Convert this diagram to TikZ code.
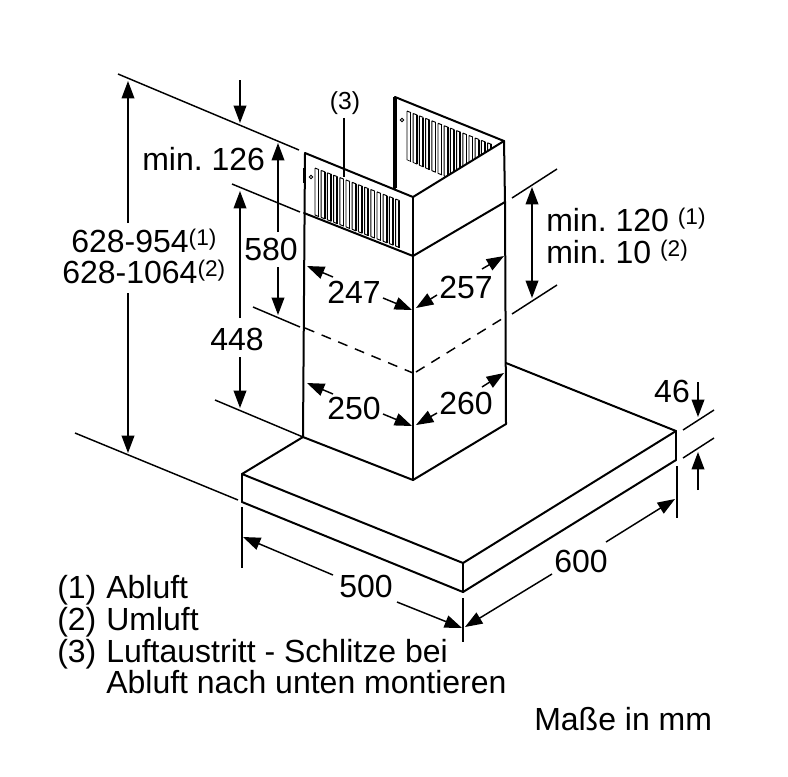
\documentclass[tikz,border=0pt]{standalone}
\usepackage{fontspec}
\setmainfont{Liberation Sans}
\usetikzlibrary{arrows.meta}

\newcommand{\supmark}[1]{\raisebox{4.9pt}{\fontsize{17}{18}\selectfont #1}}
\frenchspacing

\tikzset{
  body/.style={line width=1.5pt,line cap=round,line join=round},
  helpline/.style={line width=1.1pt},
  dimarrow/.style={line width=1.1pt,-{Triangle[length=13pt,width=9.5pt]}},
  smallarrow/.style={line width=1.1pt,-{Triangle[length=13pt,width=9.5pt]}},
  lab/.style={inner sep=0pt,font=\fontsize{24}{26}\selectfont},
  labw/.style={lab,anchor=base west,align=left},
  slot/.style={line width=0.7pt},
  slotbar/.style={line width=1.2pt}
}

\begin{document}
\begin{tikzpicture}[x=0.75pt,y=-0.75pt]
  \useasboundingbox (0,0) rectangle (788,776);

  % chimney corners
  \coordinate (panelTL) at (305,153);
  \coordinate (panelTM) at (413,197);
  \coordinate (panelBL) at (304,213);
  \coordinate (panelBM) at (413,256);
  \coordinate (rearTL) at (395,97);
  \coordinate (rearBL) at (395,188);
  \coordinate (rearTR) at (504,141);
  \coordinate (jointR) at (505,202);
  \coordinate (duct1) at (303,437);
  \coordinate (duct2) at (413,480);
  \coordinate (duct3) at (506,424);
  \coordinate (ductR) at (506,363);

  % canopy corners
  \coordinate (base1) at (242,474);
  \coordinate (base2) at (242,502);
  \coordinate (base3) at (463,563);
  \coordinate (base4) at (463,592);
  \coordinate (base5) at (676,431);
  \coordinate (base6) at (676,460);

  % slots
  \begin{scope}
    \foreach \i in {0,...,13} {
      \pgfmathsetmacro{\xa}{315+6.2*\i}
      \pgfmathsetmacro{\ta}{168+0.385*6.2*\i}
      \pgfmathsetmacro{\ba}{215+0.385*6.2*\i}
      \draw[slot] (\xa,\ta) -- (\xa+4,\ta+1.6) (\xa,\ba) -- (\xa+4,\ba+1.6) (\xa,\ta) -- (\xa,\ba);
      \draw[slotbar] (\xa+3.6,\ta+1.6) -- (\xa+3.6,\ba+1.6);
    }
  \end{scope}
  \begin{scope}
    \clip (400,100) -- (500,100) -- (500,143.5) -- (445,177) -- (400,157) -- cycle;
    \foreach \i in {0,...,13} {
      \pgfmathsetmacro{\xa}{407+6.2*\i}
      \pgfmathsetmacro{\ta}{111+0.395*6.2*\i}
      \pgfmathsetmacro{\ba}{160+0.43*6.2*\i}
      \draw[slot] (\xa,\ta) -- (\xa+4,\ta+1.6) (\xa,\ba) -- (\xa+4,\ba+1.6) (\xa,\ta) -- (\xa,\ba);
      \draw[slotbar] (\xa+3.6,\ta+1.6) -- (\xa+3.6,\ba+1.6);
    }
  \end{scope}
  \draw[slot] (311,177) circle (1.8);
  \draw[slot] (402,120) circle (1.8);

  % chimney
  \draw[body] (rearBL) -- (rearTL) -- (rearTR) -- (panelTM) -- (panelTL) -- (duct1);
  \draw[line width=2.6pt] (rearTL) -- (rearBL);
  \path[body]
  (panelTM) edge (duct2)
  (panelBL) edge (panelBM)
  (panelBM) edge (jointR)
  (rearTR) edge (jointR)
  (jointR) edge (duct3)
  (duct1) edge (duct2)
  (duct2) edge (duct3);
  \coordinate (notchA) at (303,168);
  \coordinate (notchB) at (303,183);
  \draw[slot] (notchA) -- (notchB);

  % canopy
  \path[body]
  (duct1) edge (base1)
  (base1) edge (base2)
  (base1) edge (base3)
  (base2) edge (base4)
  (base3) edge (base4)
  (base3) edge (base5)
  (base4) edge (base6)
  (base5) edge (base6)
  (ductR) edge (base5);

  % section line
  \coordinate (dashA) at (305,328);
  \coordinate (dashB) at (413,373);
  \coordinate (dashC) at (416,372);
  \coordinate (dashD) at (505,317);
  \draw[helpline,dash pattern=on 7.5pt off 6pt] (dashA) -- (dashB);
  \draw[helpline,dash pattern=on 7.5pt off 6pt] (dashC) -- (dashD);

  % extension lines
  \coordinate (extTopA) at (118,74);
  \coordinate (extTopB) at (299,150);
  \coordinate (extMidA) at (232,184);
  \coordinate (extMidB) at (300,212);
  \coordinate (extSecA) at (253,307);
  \coordinate (extSecB) at (300,327);
  \coordinate (extFlrA) at (75,433);
  \coordinate (extFlrB) at (238,500);
  \coordinate (extDuctA) at (215,400);
  \coordinate (extRtA) at (512,198);
  \coordinate (extRtB) at (557,169);
  \coordinate (extRcA) at (512,314);
  \coordinate (extRcB) at (557,285);
  \coordinate (extEdgeA) at (683,430);
  \coordinate (extEdgeB) at (714,410);
  \coordinate (extEdgeC) at (683,458);
  \coordinate (extEdgeD) at (714,438);
  \coordinate (extLfA) at (242,507);
  \coordinate (extLfB) at (242,568);
  \coordinate (extMdA) at (463,598);
  \coordinate (extMdB) at (463,642);
  \coordinate (extRgA) at (677,466);
  \coordinate (extRgB) at (677,518);
  \path[helpline]
  (extTopA) edge (extTopB)
  (extMidA) edge (extMidB)
  (extSecA) edge (extSecB)
  (extFlrA) edge (extFlrB)
  (extDuctA) edge (duct1)
  (extRtA) edge (extRtB)
  (extRcA) edge (extRcB)
  (extEdgeA) edge (extEdgeB)
  (extEdgeC) edge (extEdgeD)
  (extLfA) edge (extLfB)
  (extMdA) edge (extMdB)
  (extRgA) edge (extRgB);

  % labels
  \node[lab] (lab580) at (271,249) {580};
  \node[lab] (lab448) at (237,339) {448};
  \node[lab] (lab247) at (354,292) {247};
  \node[lab] (lab257) at (466,287) {257};
  \node[lab] (lab250) at (354,408) {250};
  \node[lab] (lab260) at (466,403) {260};
  \node[lab] (lab46) at (672,391) {46};
  \node[lab] (lab500) at (366,586) {500};
  \node[lab] (lab600) at (581,561) {600};
  \node[labw] (labMin126) at (142,170) {min. 126};
  \node[labw] (labHigh1) at (71,252) {628-954\supmark{(1)}};
  \node[labw] (labHigh2) at (62,283) {628-1064\supmark{(2)}};
  \node[labw] (labMin120) at (546,231) {min. 120 \supmark{(1)}};
  \node[labw] (labMin10) at (546,263) {min. 10 \supmark{(2)}};
  \node[inner sep=0pt,font=\fontsize{18.5}{20}\selectfont] (lab3) at (345,103) {(3)};
  \coordinate (lead3) at (344,177);
  \draw[helpline] (lab3.south -| lead3) ++(0,3) -- (lead3);

  \foreach \name/\y/\num/\txt in {leg1/598/(1)/Abluft,leg2/630/(2)/Umluft,leg3/662/(3)/Luftaustritt - Schlitze bei} {
    \node[labw] (\name n) at (57,\y) {\num};
    \node[labw] (\name) at (106,\y) {\txt};
  }
  \node[labw] (leg4) at (106,693) {Abluft nach unten montieren};
  \node[labw] (labUnit) at (534,730) {Maße in mm};

  % height arrows
  \coordinate (hA) at (128,223);
  \coordinate (hB) at (128,81);
  \coordinate (hC) at (128,293);
  \coordinate (hD) at (128,453);
  \coordinate (mA) at (240,80);
  \coordinate (mB) at (240,123);
  \coordinate (nA) at (240,318);
  \coordinate (nB) at (240,191);
  \coordinate (nC) at (240,357);
  \coordinate (nD) at (240,408);
  \coordinate (oA) at (278,232);
  \coordinate (oB) at (278,143);
  \coordinate (oC) at (278,267);
  \coordinate (oD) at (278,315);
  \coordinate (pA) at (532,240);
  \coordinate (pB) at (532,187);
  \coordinate (pC) at (532,298);
  \path[dimarrow]
  (hA) edge (hB)
  (hC) edge (hD)
  (mA) edge (mB)
  (nA) edge (nB)
  (nC) edge (nD)
  (oA) edge (oB)
  (oC) edge (oD)
  (pA) edge (pB)
  (pA) edge (pC);

  % width arrows of the chimney
  \coordinate (a1) at (333,277);
  \coordinate (a2) at (307,266);
  \coordinate (a3) at (383,298);
  \coordinate (a4) at (412,310);
  \coordinate (b1) at (437,295);
  \coordinate (b2) at (416,308);
  \coordinate (b3) at (482,269);
  \coordinate (b4) at (504,256);
  \coordinate (c1) at (333,394);
  \coordinate (c2) at (307,383);
  \coordinate (c3) at (383,414);
  \coordinate (c4) at (412,426);
  \coordinate (d1) at (437,413);
  \coordinate (d2) at (416,425);
  \coordinate (d3) at (482,387);
  \coordinate (d4) at (504,373);
  \path[smallarrow]
  (a1) edge (a2)
  (a3) edge (a4)
  (b1) edge (b2)
  (b3) edge (b4)
  (c1) edge (c2)
  (c3) edge (c4)
  (d1) edge (d2)
  (d3) edge (d4);

  % canopy arrows
  \coordinate (e1) at (333,575);
  \coordinate (e2) at (243,537);
  \coordinate (e3) at (397,602);
  \coordinate (e4) at (462,628);
  \coordinate (f1) at (552,574);
  \coordinate (f2) at (465,627);
  \coordinate (f3) at (606,542);
  \coordinate (f4) at (675,499);
  \coordinate (g1) at (698,382);
  \coordinate (g2) at (698,417);
  \coordinate (g3) at (698,490);
  \coordinate (g4) at (698,452);
  \path[smallarrow]
  (e1) edge (e2)
  (e3) edge (e4)
  (f1) edge (f2)
  (f3) edge (f4)
  (g1) edge (g2)
  (g3) edge (g4);
\end{tikzpicture}
\end{document}
